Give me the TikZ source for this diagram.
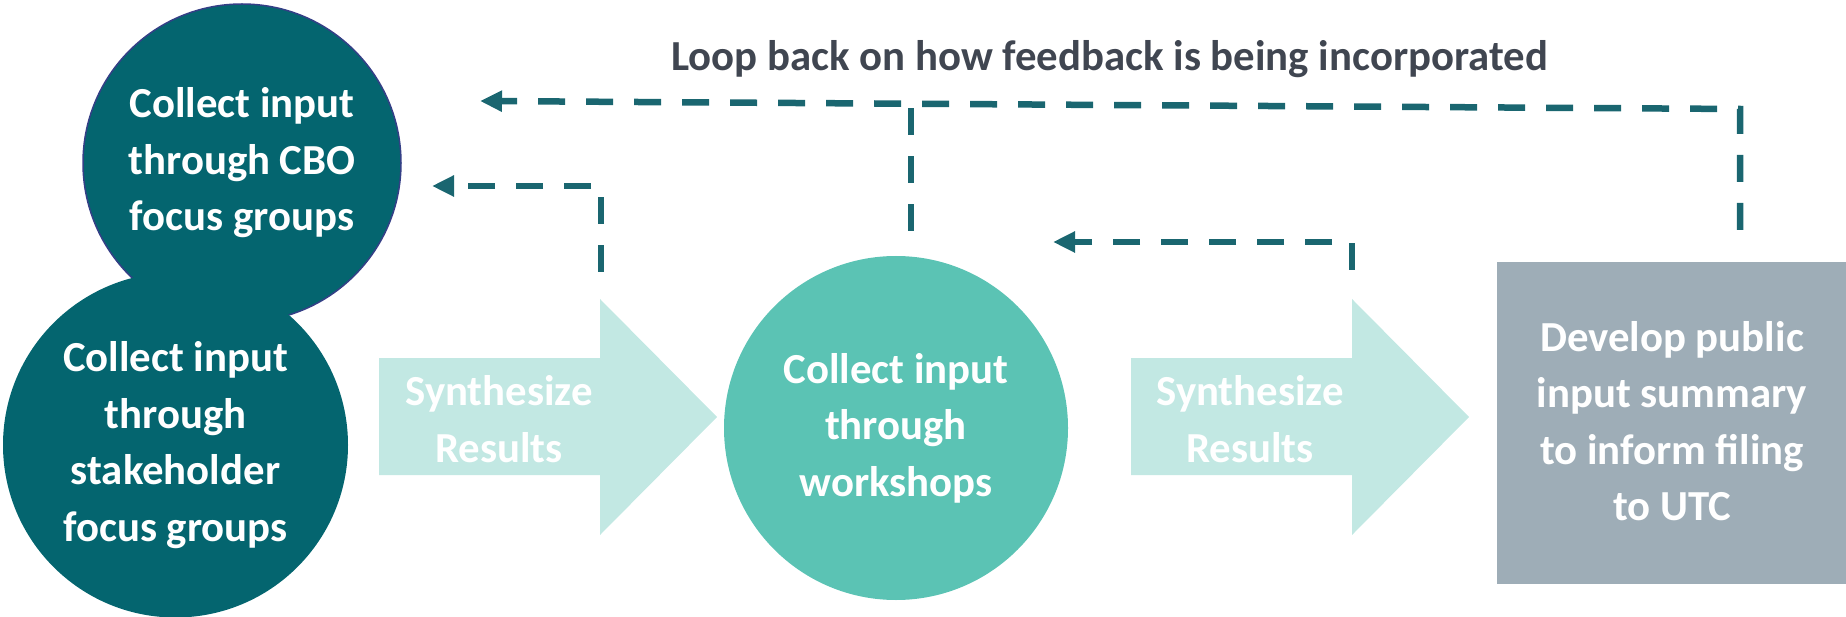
\documentclass[tikz,border=0pt]{standalone}
\usepackage{fontspec}
\setmainfont{Carlito}
\usetikzlibrary{arrows.meta}

\definecolor{deepteal}{HTML}{04656F}
\definecolor{midteal}{HTML}{5BC3B4}
\definecolor{paleteal}{HTML}{C2E8E3}
\definecolor{slate}{HTML}{9EADB7}
\definecolor{linkteal}{HTML}{1A6670}
\definecolor{titlegray}{HTML}{404651}
\definecolor{rimblue}{HTML}{343F86}

\begin{document}
\begin{tikzpicture}[x=1pt, y=-1pt,
  every node/.style={font=\fontsize{42.8}{56.5}\selectfont\bfseries,
    text=white, align=center, inner sep=0pt},
  stage/.style={circle, fill=#1},
  summarybox/.style={rectangle, fill=slate},
  synthfill/.style={fill=paleteal},
  loopline/.style={draw=linkteal, line width=6.5pt,
    dash pattern=on 27pt off 21pt},
  looptip/.style={-{Triangle[length=22pt, width=20pt]}}
]
\useasboundingbox (0,0) rectangle (1846,617);

% collection stages
\node[stage=deepteal, draw=rimblue, line width=1.5pt, minimum size=318pt]
  (cbo) at (242,163) {Collect input\\through CBO\\focus groups};
\node[stage=deepteal, minimum size=345pt]
  (stake) at (175.5,445) {Collect input\\through\\stakeholder\\focus groups};
\node[stage=midteal, minimum size=344pt]
  (work) at (896,428) {Collect input\\through\\workshops};
\node[summarybox, minimum width=349pt, minimum height=322pt]
  (summary) at (1671.5,423) {};
\node (summarytext) at (1672,421)
  {Develop public\\input summary\\to inform filing\\to UTC};

% synthesis block arrows
\fill[synthfill] (379,358) -- (600,358) -- (600,299) -- (717,417)
  -- (600,535) -- (600,475) -- (379,475) -- cycle;
\node (syn1) at (499,419) {Synthesize\\Results};
\fill[synthfill] (1131,358) -- (1352,358) -- (1352,299) -- (1469,417)
  -- (1352,535) -- (1352,475) -- (1131,475) -- cycle;
\node (syn2) at (1250,419) {Synthesize\\Results};

% feedback loop title
\node[text=titlegray] (title) at (1109.5,59)
  {Loop back on how feedback is being incorporated};

% end points of the feedback connectors
\coordinate (fbAstart) at (601,272);
\coordinate (fbAend)   at (432,186);
\coordinate (fbBstart) at (1740,230);
\coordinate (fbBcorner) at (1740,109);
\coordinate (fbBend)   at (480,101);
\coordinate (fbMstart) at (911,231);
\coordinate (fbMjoin)  at (911,103.5);
\coordinate (fbCstart) at (1352,270);
\coordinate (fbCend)   at (1053,242);

% feedback connectors
\draw[loopline, looptip] (fbAstart) |- (fbAend);
\draw[loopline, looptip] (fbBstart) -- (fbBcorner) -- (fbBend);
\draw[loopline] (fbMstart) -- (fbMjoin);
\draw[loopline, looptip] (fbCstart) |- (fbCend);
\end{tikzpicture}
\end{document}
